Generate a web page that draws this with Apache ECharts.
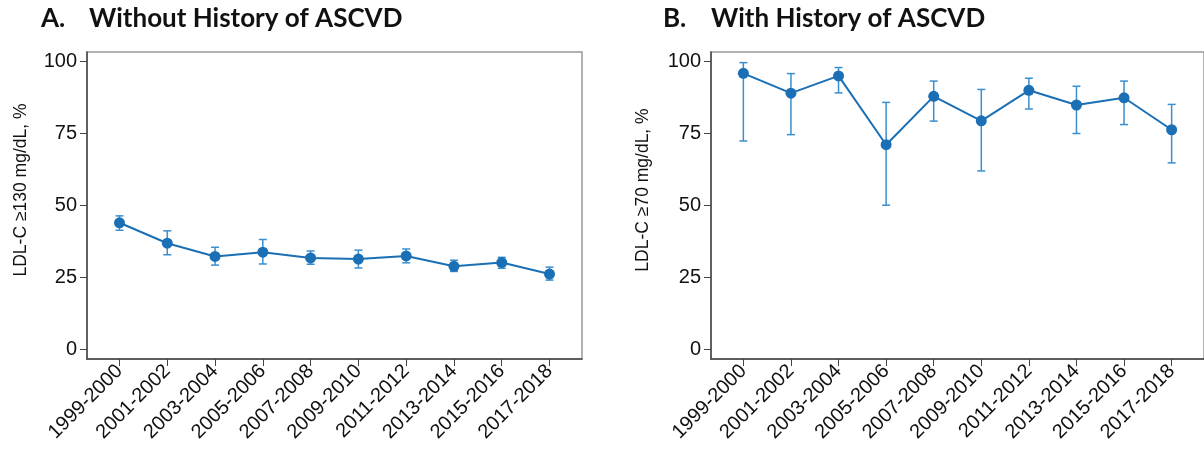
<!DOCTYPE html>
<html>
<head>
<meta charset="utf-8">
<script src="https://cdn.jsdelivr.net/npm/echarts@6/dist/echarts.min.js"></script>
<style>
  html, body { margin: 0; padding: 0; background: #fff; }
  #main { width: 1204px; height: 452px; }
</style>
</head>
<body>
<div id="main"></div>
<script>
var categories = ['1999-2000', '2001-2002', '2003-2004', '2005-2006', '2007-2008',
  '2009-2010', '2011-2012', '2013-2014', '2015-2016', '2017-2018']
var yTicks = [0, 25, 50, 75, 100]

// panel A: without history of ASCVD (LDL-C >=130)
var noAscvdPct = [43.9, 36.8, 32.2, 33.7, 31.7, 31.3, 32.4, 28.8, 30.1, 26.1]
var noAscvdLow = [41.3, 32.8, 29.2, 29.6, 29.5, 28.2, 30.0, 27.0, 28.1, 24.0]
var noAscvdHigh = [46.3, 41.1, 35.4, 38.1, 34.1, 34.4, 34.8, 30.9, 31.9, 28.5]

// panel B: with history of ASCVD (LDL-C >=70)
var ascvdPct = [95.8, 88.9, 94.9, 71.0, 87.8, 79.3, 89.9, 84.8, 87.3, 76.2]
var ascvdLow = [72.3, 74.5, 89.0, 50.0, 79.2, 61.9, 83.4, 74.9, 78.0, 64.7]
var ascvdHigh = [99.5, 95.7, 97.8, 85.7, 93.1, 90.2, 94.1, 91.3, 93.1, 85.0]

var lineColor = '#1a6fb5'
var barColor = '#3a8fcf'
var axisColor = '#444'
var font = '"Liberation Sans", Arial, sans-serif'

function pts (vals) {
  return vals.map(function (v, i) { return [i, v] })
}
function bars (lo, hi) {
  return lo.map(function (v, i) { return [i, v, hi[i]] })
}

function errorBar (params, api) {
  var lo = api.coord([api.value(0), api.value(1)])
  var hi = api.coord([api.value(0), api.value(2)])
  var w = 4
  var st = { stroke: barColor, lineWidth: 1.5 }
  return {
    type: 'group',
    children: [
      { type: 'line', shape: { x1: lo[0], y1: lo[1], x2: hi[0], y2: hi[1] }, style: st },
      { type: 'line', shape: { x1: lo[0] - w, y1: lo[1], x2: lo[0] + w, y2: lo[1] }, style: st },
      { type: 'line', shape: { x1: hi[0] - w, y1: hi[1], x2: hi[0] + w, y2: hi[1] }, style: st }
    ]
  }
}

function xAxis (idx) {
  return {
    gridIndex: idx,
    type: 'value',
    min: -0.68,
    max: 9.68,
    splitLine: { show: false },
    axisLine: { onZero: false, lineStyle: { color: axisColor, width: 1.5 } },
    axisTick: { customValues: categories.map(function (c, i) { return i }), length: 7, lineStyle: { color: axisColor } },
    axisLabel: {
      customValues: categories.map(function (c, i) { return i }),
      formatter: function (v) { return categories[v] },
      rotate: 45,
      fontFamily: font,
      fontSize: 20,
      color: '#111',
      margin: 9
    }
  }
}

function yAxis (idx) {
  return {
    gridIndex: idx,
    type: 'value',
    min: -3.4,
    max: 103.2,
    splitLine: { show: false },
    axisLine: { onZero: false, lineStyle: { color: axisColor, width: 1.5 } },
    axisTick: { customValues: yTicks, length: 7, lineStyle: { color: axisColor } },
    axisLabel: { customValues: yTicks, fontFamily: font, fontSize: 20, color: '#111', margin: 10 }
  }
}

function titleRich (letter, text, left) {
  return {
    left: left,
    top: 1,
    text: '{a|' + letter + '}{b|' + text + '}',
    textStyle: {
      rich: {
        a: { fontFamily: 'Lato', fontSize: 26, color: '#111', width: 48 },
        b: { fontFamily: 'Lato', fontSize: 26, fontWeight: 'bold', color: '#111' }
      }
    }
  }
}

var myChart = echarts.init(document.getElementById('main'))

var option = {
  animation: false,
  title: [
    titleRich('A.', 'Without History of ASCVD', 36),
    titleRich('B.', 'With History of ASCVD', 658)
  ],
  grid: [
    { left: 87, top: 52, width: 495, height: 307, show: true, borderColor: '#999', borderWidth: 1.5 },
    { left: 711, top: 52, width: 496, height: 307, show: true, borderColor: '#999', borderWidth: 1.5 }
  ],
  xAxis: [xAxis(0), xAxis(1)],
  yAxis: [yAxis(0), yAxis(1)],
  graphic: [
    {
      type: 'text', x: 12, y: 190, rotation: Math.PI / 2,
      style: { text: 'LDL-C ≥130 mg/dL, %', font: '17.5px "Liberation Sans"', fill: '#111', align: 'center', verticalAlign: 'top' }
    },
    {
      type: 'text', x: 634, y: 190, rotation: Math.PI / 2,
      style: { text: 'LDL-C ≥70 mg/dL, %', font: '17.5px "Liberation Sans"', fill: '#111', align: 'center', verticalAlign: 'top' }
    }
  ],
  series: [
    {
      type: 'custom', xAxisIndex: 0, yAxisIndex: 0, z: 1,
      renderItem: errorBar, encode: { x: 0, y: [1, 2] },
      data: bars(noAscvdLow, noAscvdHigh)
    },
    {
      type: 'line', xAxisIndex: 0, yAxisIndex: 0, z: 2,
      data: pts(noAscvdPct),
      symbol: 'circle', symbolSize: 11,
      lineStyle: { color: lineColor, width: 2 },
      itemStyle: { color: lineColor }
    },
    {
      type: 'custom', xAxisIndex: 1, yAxisIndex: 1, z: 1,
      renderItem: errorBar, encode: { x: 0, y: [1, 2] },
      data: bars(ascvdLow, ascvdHigh)
    },
    {
      type: 'line', xAxisIndex: 1, yAxisIndex: 1, z: 2,
      data: pts(ascvdPct),
      symbol: 'circle', symbolSize: 11,
      lineStyle: { color: lineColor, width: 2 },
      itemStyle: { color: lineColor }
    }
  ]
}

myChart.setOption(option)
</script>
</body>
</html>
